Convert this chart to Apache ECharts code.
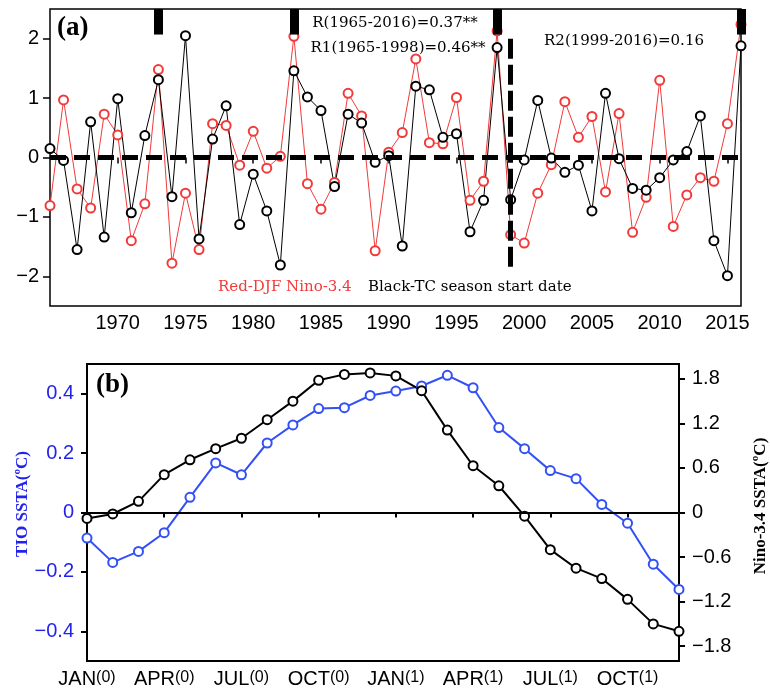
<!DOCTYPE html>
<html>
<head>
<meta charset="utf-8">
<script src="https://cdn.jsdelivr.net/npm/echarts@6/dist/echarts.min.js"></script>
<style>
  html, body { margin: 0; padding: 0; background: #fff; }
  #chart { width: 770px; height: 691px; }
</style>
</head>
<body>
<div id="chart"></div>
<script>
// panel (a): standardized series, 1965-2016
var years = [1965, 1966, 1967, 1968, 1969, 1970, 1971, 1972, 1973, 1974,
    1975, 1976, 1977, 1978, 1979, 1980, 1981, 1982, 1983, 1984,
    1985, 1986, 1987, 1988, 1989, 1990, 1991, 1992, 1993, 1994,
    1995, 1996, 1997, 1998, 1999, 2000, 2001, 2002, 2003, 2004,
    2005, 2006, 2007, 2008, 2009, 2010, 2011, 2012, 2013, 2014,
    2015, 2016];
var ninoDJF = [-0.81, 0.97, -0.53, -0.85, 0.73, 0.38, -1.40, -0.78, 1.48, -1.78,
    -0.60, -1.55, 0.57, 0.54, -0.13, 0.44, -0.18, 0.02, 2.04, -0.44,
    -0.87, -0.42, 1.08, 0.70, -1.57, 0.09, 0.42, 1.66, 0.25, 0.23,
    1.01, -0.72, -0.40, 2.13, -1.30, -1.44, -0.60, -0.12, 0.94, 0.34,
    0.69, -0.58, 0.74, -1.26, -0.67, 1.30, -1.16, -0.63, -0.34, -0.40,
    0.57, 2.24];
var tcStart = [0.15, -0.05, -1.55, 0.60, -1.34, 0.99, -0.93, 0.37, 1.31, -0.66,
    2.05, -1.37, 0.31, 0.87, -1.13, -0.28, -0.90, -1.81, 1.46, 1.02,
    0.79, -0.49, 0.73, 0.58, -0.08, 0.03, -1.49, 1.20, 1.14, 0.34,
    0.40, -1.25, -0.72, 1.85, -0.71, -0.04, 0.96, -0.01, -0.25, -0.13,
    -0.90, 1.08, -0.02, -0.52, -0.55, -0.34, -0.04, 0.10, 0.70, -1.40,
    -1.99, 1.88];
var strongYears = [1973, 1983, 1998, 2016];
var yearTicks = [1970, 1975, 1980, 1985, 1990, 1995, 2000, 2005, 2010, 2015];
var aTicks = [-2, -1, 0, 1, 2];
var breakYear = 1999;

// panel (b): composite evolution
var months = ['JAN(0)', 'FEB(0)', 'MAR(0)', 'APR(0)', 'MAY(0)', 'JUN(0)',
    'JUL(0)', 'AUG(0)', 'SEP(0)', 'OCT(0)', 'NOV(0)', 'DEC(0)',
    'JAN(1)', 'FEB(1)', 'MAR(1)', 'APR(1)', 'MAY(1)', 'JUN(1)',
    'JUL(1)', 'AUG(1)', 'SEP(1)', 'OCT(1)', 'NOV(1)', 'DEC(1)'];
var tioSsta = [-0.086, -0.168, -0.131, -0.068, 0.051, 0.167, 0.127, 0.234, 0.295, 0.350,
    0.353, 0.394, 0.409, 0.426, 0.462, 0.420, 0.286, 0.215, 0.141, 0.114,
    0.027, -0.036, -0.174, -0.259];
var ninoSsta = [-0.08, -0.02, 0.15, 0.51, 0.71, 0.86, 1.00, 1.25, 1.50, 1.78,
    1.86, 1.88, 1.84, 1.64, 1.11, 0.63, 0.36, -0.05, -0.50, -0.75,
    -0.89, -1.17, -1.50, -1.60];
var tioTicks = [-0.4, -0.2, 0, 0.2, 0.4];
var ninoTicks = [-1.8, -1.2, -0.6, 0, 0.6, 1.2, 1.8];

var sans = 'Liberation Sans, Arial, sans-serif';
var serif = 'Liberation Serif, Times New Roman, serif';
var dserif = 'DejaVu Serif, serif';
var red = '#f23a3a';
var blue = '#3350f5';
var labelBlue = '#2222ee';

function pairs(xs, ys) {
    return xs.map(function (x, i) { return [x, ys[i]]; });
}

function signed(v) {
    return v < 0 ? '\u2212' + String(-v) : String(v);
}

var chart = echarts.init(document.getElementById('chart'));

var option = {
    animation: false,
    backgroundColor: '#fff',
    grid: [
        {left: 50, top: 9, width: 691, height: 297, show: true, borderColor: '#000', borderWidth: 1.5, backgroundColor: 'transparent'},
        {left: 87, top: 364, width: 592, height: 297, show: true, borderColor: '#000', borderWidth: 2, backgroundColor: 'transparent'}
    ],
    xAxis: [
        {
            type: 'value', gridIndex: 0, min: 1965, max: 2016,
            axisLine: {show: false},
            splitLine: {show: false},
            axisTick: {show: true, length: 6, inside: false, customValues: yearTicks, lineStyle: {color: '#000', width: 1.5}},
            axisLabel: {customValues: yearTicks, margin: 7, color: '#000', fontFamily: sans, fontSize: 20,
                formatter: function (v) { return String(v); }}
        },
        {
            type: 'category', gridIndex: 1, data: months, boundaryGap: false,
            axisLine: {show: false},
            splitLine: {show: false},
            axisTick: {show: true, interval: 2, length: 5, lineStyle: {color: '#000', width: 2}},
            axisLabel: {
                interval: 2, margin: 7, color: '#000',
                formatter: function (v) {
                    var k = v.indexOf('(');
                    return '{m|' + v.slice(0, k) + '}{p|' + v.slice(k) + '}';
                },
                rich: {
                    m: {fontFamily: sans, fontSize: 20, lineHeight: 22, color: '#000'},
                    p: {fontFamily: sans, fontSize: 16, lineHeight: 22, padding: [0, 0, 3, 0], color: '#000'}
                }
            }
        }
    ],
    yAxis: [
        {
            type: 'value', gridIndex: 0, min: -2.5, max: 2.5,
            axisLine: {show: false},
            splitLine: {show: false},
            axisTick: {show: true, length: 7, customValues: aTicks, lineStyle: {color: '#000', width: 1.5}},
            axisLabel: {customValues: aTicks, margin: 11, color: '#000', fontFamily: sans, fontSize: 20, formatter: signed}
        },
        {
            type: 'value', gridIndex: 1, min: -0.5, max: 0.5, position: 'left',
            axisLine: {show: false},
            splitLine: {show: false},
            axisTick: {show: true, length: 6, customValues: tioTicks, lineStyle: {color: '#000', width: 2}},
            axisLabel: {customValues: tioTicks, margin: 13, color: labelBlue, fontFamily: sans, fontSize: 20, formatter: signed}
        },
        {
            type: 'value', gridIndex: 1, min: -2, max: 2, position: 'right',
            axisLine: {show: false},
            splitLine: {show: false},
            axisTick: {show: true, length: 6, customValues: ninoTicks, lineStyle: {color: '#000', width: 2}},
            axisLabel: {customValues: ninoTicks, margin: 13, color: '#000', fontFamily: sans, fontSize: 20, formatter: signed}
        }
    ],
    series: [
        {
            name: 'Red-DJF Nino-3.4', type: 'line', xAxisIndex: 0, yAxisIndex: 0,
            data: pairs(years, ninoDJF),
            symbol: 'emptyCircle', symbolSize: 9,
            lineStyle: {color: red, width: 1},
            itemStyle: {color: red, borderColor: red, borderWidth: 1},
            emphasis: {disabled: true}
        },
        {
            name: 'Black-TC season start date', type: 'line', xAxisIndex: 0, yAxisIndex: 0,
            data: pairs(years, tcStart),
            symbol: 'emptyCircle', symbolSize: 9,
            lineStyle: {color: '#000', width: 1},
            itemStyle: {color: '#000', borderColor: '#000', borderWidth: 1},
            emphasis: {disabled: true},
            markLine: {
                silent: true,
                z: 10,
                symbol: ['none', 'none'],
                label: {show: false},
                data: [
                    {yAxis: 0, lineStyle: {color: '#000', width: 5, type: [16, 8]}},
                    [{coord: [breakYear, 2.0], lineStyle: {color: '#000', width: 5, type: [20, 6]}}, {coord: [breakYear, -1.85]}]
                ].concat(strongYears.map(function (y) {
                    return [{coord: [y, 2.5], lineStyle: {color: '#000', width: 9, type: 'solid'}}, {coord: [y, 2.07]}];
                }))
            }
        },
        {
            name: 'TIO SSTA', type: 'line', xAxisIndex: 1, yAxisIndex: 1,
            data: tioSsta,
            symbol: 'emptyCircle', symbolSize: 9,
            lineStyle: {color: blue, width: 2},
            itemStyle: {color: blue, borderColor: blue, borderWidth: 2},
            emphasis: {disabled: true},
            markLine: {
                silent: true,
                symbol: ['none', 'none'],
                label: {show: false},
                lineStyle: {color: '#000', width: 2, type: 'solid'},
                data: [{yAxis: 0}]
            }
        },
        {
            name: 'Nino-3.4 SSTA', type: 'line', xAxisIndex: 1, yAxisIndex: 2,
            data: ninoSsta,
            symbol: 'emptyCircle', symbolSize: 9,
            lineStyle: {color: '#000', width: 2},
            itemStyle: {color: '#000', borderColor: '#000', borderWidth: 2},
            emphasis: {disabled: true}
        }
    ],
    graphic: [
        {type: 'text', left: 57, top: 15, style: {text: '(a)', font: 'bold 27px ' + serif, fill: '#000'}},
        {type: 'text', left: 96, top: 372, style: {text: '(b)', font: 'bold 27px ' + serif, fill: '#000'}},
        {type: 'text', x: 395, y: 23, style: {text: 'R(1965-2016)=0.37**', font: '15px ' + dserif, fill: '#000', align: 'center', verticalAlign: 'middle'}},
        {type: 'text', x: 398, y: 48, style: {text: 'R1(1965-1998)=0.46**', font: '15px ' + dserif, fill: '#000', align: 'center', verticalAlign: 'middle'}},
        {type: 'text', x: 624, y: 41, style: {text: 'R2(1999-2016)=0.16', font: '15px ' + dserif, fill: '#000', align: 'center', verticalAlign: 'middle'}},
        {type: 'text', x: 218, y: 287, style: {text: 'Red-DJF Nino-3.4', font: '15px ' + dserif, fill: red, align: 'left', verticalAlign: 'middle'}},
        {type: 'text', x: 368, y: 287, style: {text: 'Black-TC season start date', font: '15px ' + dserif, fill: '#000', align: 'left', verticalAlign: 'middle'}},
        {type: 'text', x: 23, y: 504, rotation: Math.PI / 2, style: {text: 'TIO SSTA(\u00baC)', font: 'bold 17px ' + serif, fill: labelBlue, align: 'center', verticalAlign: 'middle'}},
        {type: 'text', x: 761, y: 506, rotation: Math.PI / 2, style: {text: 'Nino-3.4 SSTA(\u00baC)', font: 'bold 17px ' + serif, fill: '#000', align: 'center', verticalAlign: 'middle'}}
    ]
};

chart.setOption(option);
</script>
</body>
</html>
